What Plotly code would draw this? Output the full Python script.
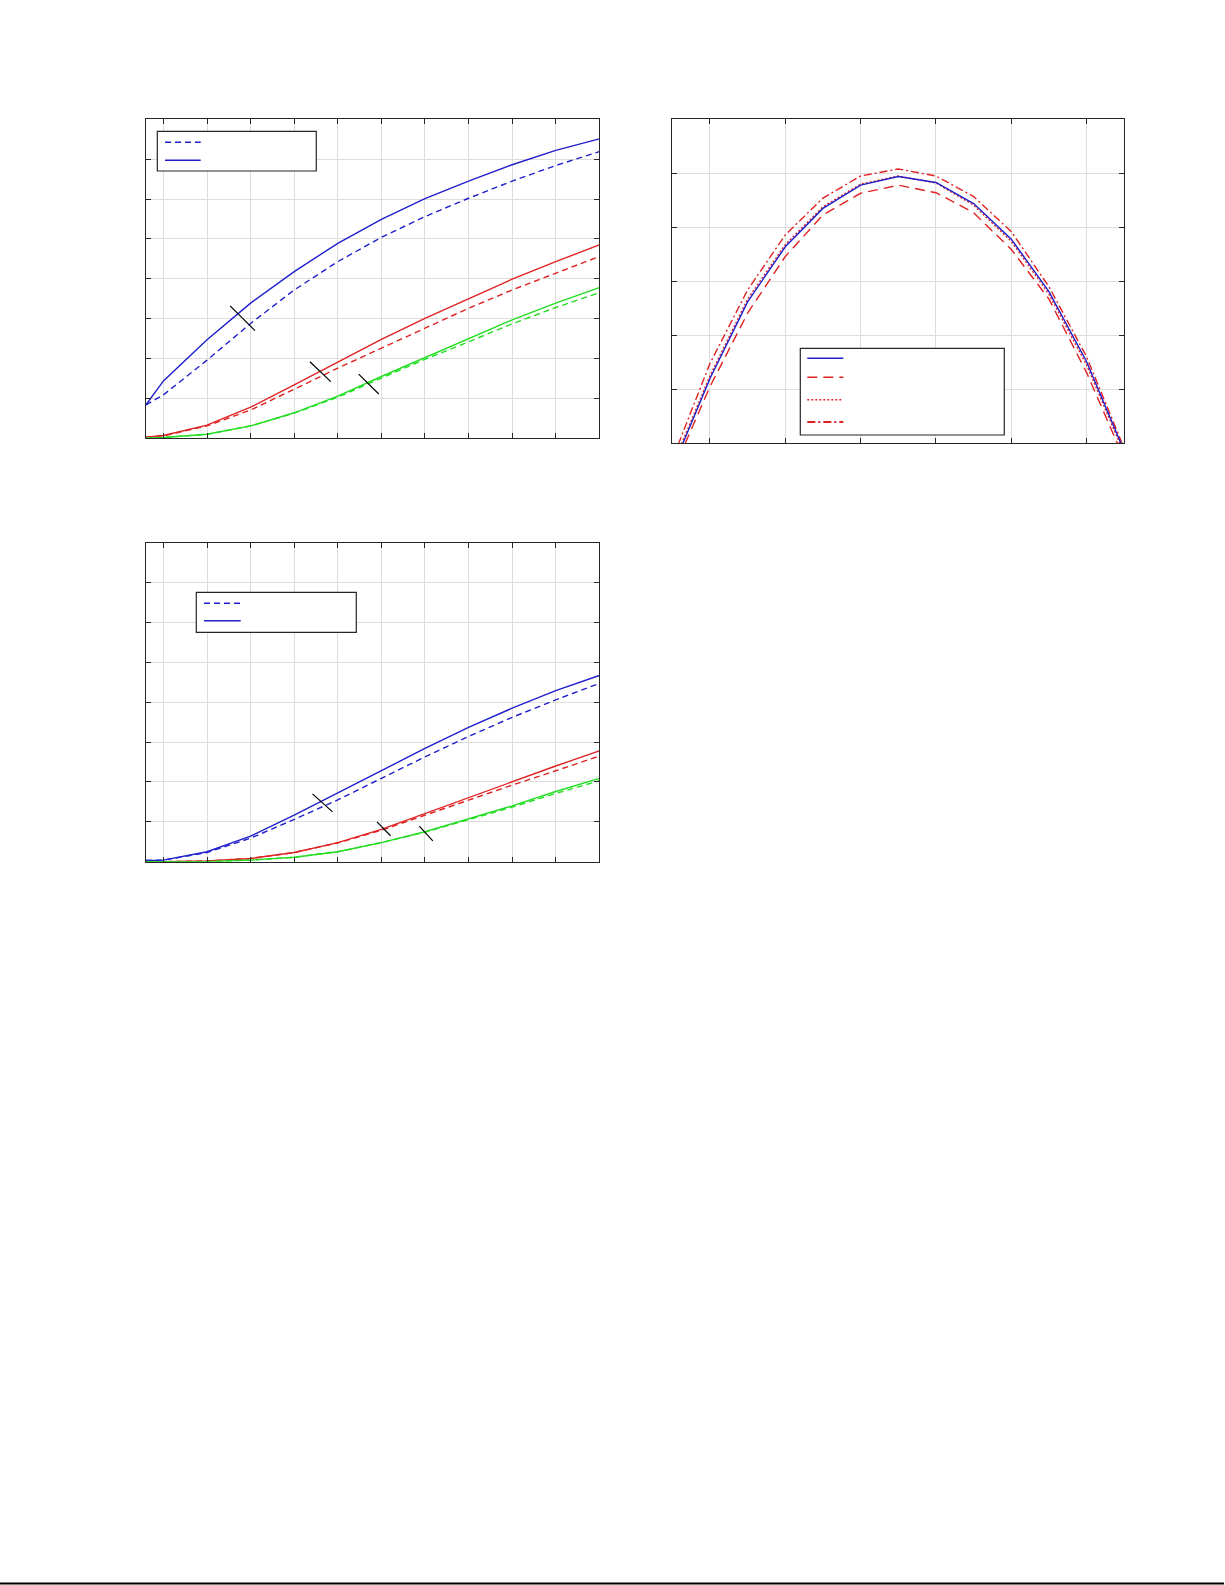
import plotly.graph_objects as go

W, H = 1225, 1585

# ---- data ----
x_top = [0.6, 1, 2, 3, 4, 5, 6, 7, 8, 9, 10, 11]

a_blue_solid = [0.84, 1.44, 2.47, 3.39, 4.18, 4.89, 5.49, 6.01, 6.45, 6.86, 7.22, 7.51]
a_blue_dash = [0.84, 1.09, 1.96, 2.88, 3.72, 4.43, 5.04, 5.56, 6.02, 6.45, 6.84, 7.19]
a_red_solid = [0.03, 0.07, 0.33, 0.78, 1.34, 1.92, 2.48, 3.01, 3.51, 3.99, 4.43, 4.85]
a_red_dash = [0.03, 0.06, 0.31, 0.71, 1.23, 1.76, 2.26, 2.76, 3.26, 3.72, 4.14, 4.56]
a_green_solid = [0.0, 0.02, 0.10, 0.31, 0.64, 1.06, 1.55, 2.03, 2.51, 2.97, 3.39, 3.78]
a_green_dash = [0.0, 0.02, 0.10, 0.31, 0.63, 1.03, 1.51, 1.98, 2.42, 2.87, 3.28, 3.65]
a_marks_x = [[2.53, 3.10], [4.36, 4.84], [5.48, 5.94]]
a_marks_y = [[3.32, 2.70], [1.92, 1.42], [1.61, 1.11]]

x_arc = [0.5, 1, 1.5, 2, 2.5, 3, 3.5, 4, 4.5, 5, 5.5, 6, 6.5]
b_blue = [-0.47, 1.20, 2.62, 3.64, 4.35, 4.78, 4.94, 4.83, 4.44, 3.78, 2.81, 1.51, -0.15]
b_red_dash = [-0.55, 1.05, 2.41, 3.46, 4.23, 4.63, 4.78, 4.64, 4.27, 3.59, 2.67, 1.31, -0.30]
b_red_dot = [-0.42, 1.25, 2.67, 3.68, 4.38, 4.80, 4.95, 4.82, 4.41, 3.74, 2.76, 1.45, -0.20]
b_red_dashdot = [-0.30, 1.48, 2.84, 3.86, 4.54, 4.95, 5.08, 4.95, 4.57, 3.92, 2.90, 1.60, -0.10]

c_blue_solid = [0.03, 0.04, 0.25, 0.64, 1.17, 1.73, 2.30, 2.84, 3.37, 3.85, 4.29, 4.67]
c_blue_dash = [0.03, 0.04, 0.23, 0.59, 1.06, 1.55, 2.09, 2.63, 3.14, 3.62, 4.06, 4.47]
c_red_solid = [0.0, 0.0, 0.02, 0.08, 0.23, 0.48, 0.81, 1.21, 1.61, 2.01, 2.40, 2.78]
c_red_dash = [0.0, 0.0, 0.02, 0.08, 0.23, 0.47, 0.79, 1.17, 1.55, 1.92, 2.28, 2.65]
c_green_solid = [0.0, 0.0, 0.0, 0.04, 0.11, 0.25, 0.48, 0.75, 1.07, 1.40, 1.76, 2.09]
c_green_dash = [0.0, 0.0, 0.0, 0.04, 0.11, 0.25, 0.48, 0.74, 1.05, 1.37, 1.71, 2.03]
c_marks_x = [[4.42, 4.88], [5.90, 6.21], [6.87, 7.18]]
c_marks_y = [[1.70, 1.25], [1.00, 0.65], [0.89, 0.52]]

BLUE = "#1f1fcc"
RED = "#e02222"
GREEN = "#22dd22"
DASH = "6px,4px"

fig = go.Figure()


def line(x, y, color, dash="solid", width=1.4, ax=""):
    fig.add_trace(go.Scatter(
        x=x, y=y, mode="lines", showlegend=False, hoverinfo="skip",
        line=dict(color=color, dash=dash, width=width),
        xaxis="x" + ax, yaxis="y" + ax,
    ))


# panel 1 (top left)
line(x_top, a_blue_dash, BLUE, DASH)
line(x_top, a_blue_solid, BLUE)
line(x_top, a_red_dash, RED, DASH)
line(x_top, a_red_solid, RED)
line(x_top, a_green_dash, GREEN, DASH)
line(x_top, a_green_solid, GREEN)
for mx, my in zip(a_marks_x, a_marks_y):
    line(mx, my, "black", width=1.2)

# panel 2 (top right)
line(x_arc, b_red_dash, RED, "10px,6px", ax="2")
line(x_arc, b_red_dot, RED, "2px,2px", ax="2")
line(x_arc, b_red_dashdot, RED, "8px,3px,2px,3px", ax="2")
line(x_arc, b_blue, BLUE, ax="2")

# panel 3 (bottom left)
line(x_top, c_blue_dash, BLUE, DASH, ax="3")
line(x_top, c_blue_solid, BLUE, ax="3")
line(x_top, c_red_dash, RED, DASH, ax="3")
line(x_top, c_red_solid, RED, ax="3")
line(x_top, c_green_dash, GREEN, DASH, ax="3")
line(x_top, c_green_solid, GREEN, ax="3")
for mx, my in zip(c_marks_x, c_marks_y):
    line(mx, my, "black", width=1.2, ax="3")


def px_x(p):
    return p / W


def px_y(p):
    return 1 - p / H


def axis(lo, hi, dom, anchor):
    return dict(
        range=[lo, hi], domain=dom, anchor=anchor, dtick=1, tick0=0,
        showticklabels=False, ticks="inside", ticklen=5, tickcolor="#262626",
        showline=True, linecolor="#262626", linewidth=1.2, mirror="ticks",
        showgrid=True, gridcolor="#dddddd", gridwidth=1, zeroline=False,
    )


fig.update_layout(
    width=W, height=H, margin=dict(l=0, r=0, t=0, b=0),
    paper_bgcolor="white", plot_bgcolor="white", showlegend=False,
    xaxis=axis(0.6, 11, [px_x(146), px_x(599.3)], "y"),
    yaxis=axis(0, 8, [px_y(438.3), px_y(119.3)], "x"),
    xaxis2=axis(0.5, 6.5, [px_x(672.3), px_x(1124.3)], "y2"),
    yaxis2=axis(0, 6, [px_y(443.3), px_y(119.3)], "x2"),
    xaxis3=axis(0.6, 11, [px_x(146), px_x(599.3)], "y3"),
    yaxis3=axis(0, 8, [px_y(861.7), px_y(542.7)], "x3"),
)


# legend boxes (text is blank in the reference)
def legend_box(x0, y0, x1, y1, samples):
    fig.add_shape(type="rect", xref="paper", yref="paper",
                  x0=px_x(x0), x1=px_x(x1), y0=px_y(y1), y1=px_y(y0),
                  line=dict(color="#262626", width=1.2), fillcolor="white")
    for sx0, sx1, sy, color, dash, width in samples:
        fig.add_shape(type="line", xref="paper", yref="paper",
                      x0=px_x(sx0), x1=px_x(sx1), y0=px_y(sy), y1=px_y(sy),
                      line=dict(color=color, dash=dash, width=width))


legend_box(157.3, 131.3, 316.3, 171, [
    (165, 200.7, 142.3, BLUE, DASH, 1.4),
    (165, 200.7, 160.3, BLUE, "solid", 1.4),
])
legend_box(800.3, 348.3, 1004.3, 435, [
    (807.3, 843.3, 358.3, BLUE, "solid", 1.4),
    (807.3, 843.3, 377.3, RED, "10px,6px", 1.4),
    (807.3, 843.3, 399.7, RED, "2px,2px", 1.4),
    (807.3, 843.3, 422, RED, "8px,3px,2px,3px", 2.2),
])
legend_box(196.3, 592.3, 356.3, 632.3, [
    (204, 240.7, 603.3, BLUE, DASH, 1.4),
    (204, 240.7, 620.7, BLUE, "solid", 1.4),
])

# page rule at the very bottom
fig.add_shape(type="line", xref="paper", yref="paper",
              x0=0, x1=px_x(1224), y0=px_y(1583.5), y1=px_y(1583.5),
              line=dict(color="black", width=2))

# drop the browser's default 8px body margin so the figure sits at (0, 0)
fig.write_html("out.html", config={"displayModeBar": False},
               post_script="document.body.style.margin='0';")
